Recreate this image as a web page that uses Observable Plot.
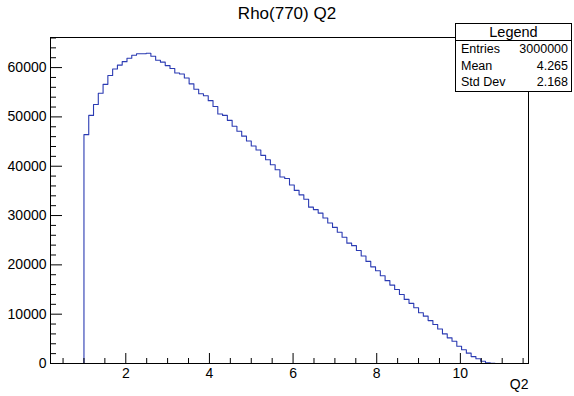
<!DOCTYPE html>
<html>
<head>
<meta charset="utf-8">
<script src="https://cdn.jsdelivr.net/npm/d3@7"></script>
<script src="https://cdn.jsdelivr.net/npm/@observablehq/plot@0.6"></script>
<style>
  body { margin: 0; background: #fff; font-family: "Liberation Sans", Arial, Helvetica, sans-serif; }
  #wrap { position: relative; width: 574px; height: 396px; overflow: hidden; }
  #title { position: absolute; left: 0; top: 4px; width: 574px; text-align: center; font-size: 17px; color: #000; }
  #stats { position: absolute; left: 455px; top: 23px; width: 117px; height: 69px; border: 1px solid #000;
           background: #fff; box-sizing: border-box; font-size: 12.5px; color: #000; }
  #stats .head { height: 16px; line-height: 16px; text-align: center; font-size: 14.5px; border-bottom: 1px solid #000; }
  #stats .row { height: 16.6px; line-height: 16px; display: flex; justify-content: space-between; padding: 0 3px 0 5px; }
</style>
</head>
<body>
<div id="wrap"></div>
<script>
// ---- data ----
const chartTitle = "Rho(770) Q2";
const xLabel = "Q2";
const statsTitle = "Legend";
const statsLabels = ["Entries", "Mean", "Std Dev"];
const statsValues = ["3000000", "4.265", "2.168"];

const histMin = 0.2;
const histMax = 11.629;
const nBins = 100;
const firstFilledBin = 7;
const counts = [
  46400, 50300, 52500, 54800, 56600, 58400, 59700, 60500, 61200, 61900,
  62500, 62800, 62800, 62900, 62300, 61500, 61100, 60400, 59800, 58900,
  58700, 57900, 56700, 55600, 54700, 54300, 53300, 52100, 50600, 50300,
  49300, 48100, 47100, 46100, 45100, 44100, 43300, 42200, 41300, 40300,
  39300, 37800, 37500, 36200, 35100, 34200, 33300, 31700, 31200, 30500,
  29500, 28500, 27600, 26600, 25600, 24400, 23900, 22900, 21800, 20700,
  19600, 18800, 17800, 16800, 15900, 15000, 14000, 13000, 12200, 11300,
  10300, 9600, 8700, 7900, 7000, 6000, 5200, 4500, 3500, 2800,
  2100, 1400, 950, 470, 140, 30
];
const yMax = 66100;

const xMajorTicks = [2, 4, 6, 8, 10];
const xMinorTicks = [0.5, 1, 1.5, 2.5, 3, 3.5, 4.5, 5, 5.5, 6.5, 7, 7.5, 8.5, 9, 9.5, 10.5, 11, 11.5];
const yMajorTicks = [0, 10000, 20000, 30000, 40000, 50000, 60000];
const yMinorTicks = [2000, 4000, 6000, 8000, 12000, 14000, 16000, 18000, 22000, 24000, 26000, 28000,
  32000, 34000, 36000, 38000, 42000, 44000, 46000, 48000, 52000, 54000, 56000, 58000, 62000, 64000, 66000];

// ---- build step outline ----
const binW = (histMax - histMin) / nBins;
const pts = [{x: histMin + firstFilledBin * binW, y: 0}];
counts.forEach((c, i) => pts.push({x: histMin + (firstFilledBin + i) * binW, y: c}));
const xEnd = histMin + (firstFilledBin + counts.length) * binW;
pts.push({x: xEnd, y: counts[counts.length - 1]}, {x: xEnd, y: 0});

const W = 574, H = 396, mL = 50, mR = 46, mT = 37, mB = 33;
const pw = W - mL - mR, ph = H - mT - mB;

const chart = Plot.plot({
  width: W, height: H,
  marginLeft: mL, marginRight: mR, marginTop: mT, marginBottom: mB,
  x: {domain: [histMin, histMax], label: null},
  y: {domain: [0, yMax], label: null},
  style: {fontFamily: '"Liberation Sans", Arial, Helvetica, sans-serif', fontSize: "14px", color: "#000", background: "#fff"},
  marks: [
    Plot.line(pts, {x: "x", y: "y", curve: "step-after", stroke: "#2b3bb3", strokeWidth: 1.1}),
    Plot.tickX(xMajorTicks, {x: d => d, stroke: "#000", insetTop: ph - 10}),
    Plot.tickX(xMinorTicks, {x: d => d, stroke: "#000", insetTop: ph - 5}),
    Plot.tickY(yMajorTicks, {y: d => d, stroke: "#000", insetRight: pw - 12}),
    Plot.tickY(yMinorTicks, {y: d => d, stroke: "#000", insetRight: pw - 6}),
    Plot.axisX({ticks: xMajorTicks, tickSize: 0, tickPadding: 5, tickFormat: d => String(d)}),
    Plot.axisY({ticks: yMajorTicks, tickSize: 0, tickPadding: 4, tickFormat: d => String(d)}),
    Plot.text([xLabel], {text: d => d, frameAnchor: "bottom-right", textAnchor: "end", dy: 25, fontSize: 14}),
    Plot.frame({stroke: "#000", strokeWidth: 1})
  ]
});

const wrap = document.getElementById("wrap");
wrap.appendChild(chart);

const t = document.createElement("div");
t.id = "title";
t.textContent = chartTitle;
wrap.appendChild(t);

const s = document.createElement("div");
s.id = "stats";
const head = document.createElement("div");
head.className = "head";
head.textContent = statsTitle;
s.appendChild(head);
statsLabels.forEach((lab, i) => {
  const r = document.createElement("div");
  r.className = "row";
  const a = document.createElement("span"); a.textContent = lab;
  const b = document.createElement("span"); b.textContent = statsValues[i];
  r.appendChild(a); r.appendChild(b);
  s.appendChild(r);
});
wrap.appendChild(s);
</script>
</body>
</html>
